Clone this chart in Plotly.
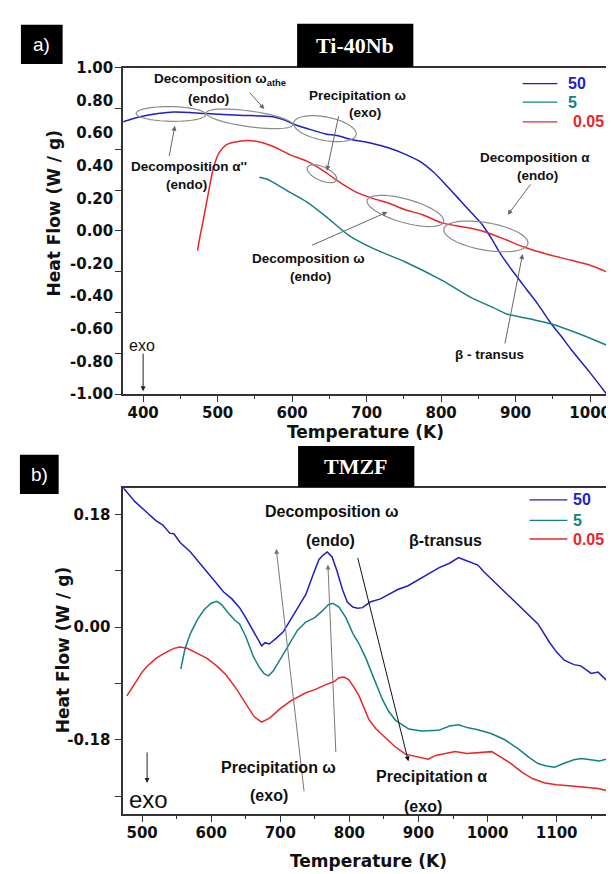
import numpy as np
import plotly.graph_objects as go

W, H = 614, 874

# ---------------- Panel a) Ti-40Nb ----------------
rate_labels = ["50", "5", "0.05"]
colors = ["#1f1fc4", "#138282", "#e8262a"]

temp_a_50 = [373, 396, 420, 441, 485, 529, 574, 590, 605, 619, 645, 660, 681, 705, 729, 752, 774, 790,
             809, 825, 841, 855, 868, 881, 900, 915, 930, 948, 962, 975, 1000, 1022]
hf_a_50 = [0.67, 0.70, 0.72, 0.73, 0.72, 0.71, 0.70, 0.68, 0.65, 0.63, 0.595, 0.585, 0.56, 0.54, 0.51, 0.47,
           0.42, 0.36, 0.27, 0.19, 0.11, 0.04, -0.05, -0.15, -0.27, -0.36, -0.45, -0.57, -0.65, -0.73, -0.87, -1.00]

temp_a_5 = [556, 565, 574, 596, 619, 645, 677, 710, 752, 800, 841, 870, 889, 920, 948, 985, 1022]
hf_a_5 = [0.33, 0.32, 0.30, 0.24, 0.18, 0.09, -0.03, -0.11, -0.19, -0.30, -0.41, -0.47, -0.51, -0.54,
          -0.57, -0.63, -0.70]

temp_a_005 = [473, 476, 480, 487, 494, 502, 512, 529, 540, 552, 574, 596, 619, 645, 660, 685, 708, 730,
              752, 775, 801, 830, 855, 885, 912, 940, 975, 1000, 1022]
hf_a_005 = [-0.12, -0.04, 0.05, 0.22, 0.38, 0.48, 0.53, 0.55, 0.555, 0.55, 0.52, 0.47, 0.43, 0.36, 0.31,
            0.24, 0.20, 0.17, 0.13, 0.10, 0.05, 0.025, 0.00, -0.05, -0.10, -0.14, -0.18, -0.21, -0.25]

xticks_a = [400, 500, 600, 700, 800, 900, 1000]
yticks_a_marks = [-1.0, -0.75, -0.5, -0.25, 0.0, 0.25, 0.5, 0.75, 1.0]
yticks_a_labels = [-1.0, -0.8, -0.6, -0.4, -0.2, 0.0, 0.2, 0.4, 0.6, 0.8, 1.0]

# ---------------- Panel b) TMZF ----------------
temp_b_50 = [473, 490, 505, 520, 530, 540, 546, 555, 570, 585, 600, 610, 618, 630, 641, 650, 660, 668,
             673, 678, 684, 694, 704, 715, 725, 737, 748, 756, 762, 768, 775, 782, 790, 797, 805, 812,
             819, 830, 845, 857, 870, 885, 900, 915, 930, 945, 958, 965, 975, 986, 995, 1010, 1025,
             1040, 1055, 1073, 1090, 1100, 1111, 1125, 1135, 1150, 1160, 1172]
hf_b_50 = [0.222, 0.200, 0.185, 0.170, 0.163, 0.150, 0.149, 0.135, 0.120, 0.100, 0.080, 0.066, 0.056,
           0.045, 0.031, 0.015, -0.005, -0.022, -0.030, -0.025, -0.027, -0.018, -0.008, 0.012, 0.030,
           0.052, 0.085, 0.108, 0.115, 0.120, 0.112, 0.090, 0.060, 0.040, 0.032, 0.030, 0.031, 0.040,
           0.045, 0.052, 0.060, 0.066, 0.076, 0.085, 0.095, 0.102, 0.111, 0.108, 0.104, 0.099, 0.088,
           0.072, 0.056, 0.040, 0.025, 0.005, -0.025, -0.040, -0.053, -0.060, -0.062, -0.074, -0.072,
           -0.085]

temp_b_5 = [556, 562, 570, 580, 590, 600, 608, 615, 625, 635, 641, 650, 661, 670, 677, 683, 690, 700,
            713, 725, 737, 750, 760, 770, 776, 785, 795, 805, 814, 824, 834, 848, 857, 867, 886, 905,
            929, 945, 958, 972, 986, 1005, 1025, 1045, 1060, 1073, 1085, 1097, 1110, 1125, 1136, 1150,
            1162, 1172]
hf_b_5 = [-0.067, -0.035, -0.010, 0.012, 0.028, 0.038, 0.041, 0.036, 0.022, 0.010, 0.005, -0.015, -0.047,
          -0.065, -0.075, -0.078, -0.070, -0.052, -0.027, -0.005, 0.008, 0.015, 0.025, 0.036, 0.038,
          0.032, 0.015, -0.010, -0.027, -0.050, -0.078, -0.116, -0.135, -0.149, -0.163, -0.166, -0.165,
          -0.158, -0.156, -0.161, -0.164, -0.170, -0.180, -0.195, -0.208, -0.218, -0.222, -0.224, -0.218,
          -0.212, -0.210, -0.212, -0.214, -0.211]

temp_b_005 = [478, 490, 500, 507, 520, 535, 546, 555, 565, 580, 594, 608, 622, 636, 651, 662, 673, 685,
              699, 715, 737, 750, 766, 778, 785, 792, 799, 806, 814, 821, 828, 838, 848, 865, 881, 895,
              905, 914, 925, 940, 953, 970, 990, 1006, 1020, 1035, 1050, 1065, 1083, 1100, 1122, 1145,
              1160, 1172]
hf_b_005 = [-0.110, -0.090, -0.072, -0.063, -0.050, -0.040, -0.034, -0.032, -0.034, -0.042, -0.050,
            -0.062, -0.077, -0.098, -0.125, -0.143, -0.152, -0.145, -0.131, -0.118, -0.105, -0.100,
            -0.092, -0.087, -0.081, -0.080, -0.084, -0.095, -0.110, -0.130, -0.147, -0.162, -0.172,
            -0.190, -0.203, -0.206, -0.208, -0.211, -0.205, -0.202, -0.199, -0.202, -0.200, -0.199,
            -0.208, -0.219, -0.232, -0.242, -0.249, -0.252, -0.254, -0.257, -0.258, -0.261]

xticks_b = [500, 600, 700, 800, 900, 1000, 1100]
yticks_b = [-0.27, -0.18, -0.09, 0.0, 0.09, 0.18]
yticks_b_text = ["", "-0.18", "", "0.00", "", "0.18"]


def P(px, py):
    return px / W, 1 - py / H


fig = go.Figure()

for t, v, c, name in [(temp_a_50, hf_a_50, colors[0], rate_labels[0]),
                      (temp_a_5, hf_a_5, colors[1], rate_labels[1]),
                      (temp_a_005, hf_a_005, colors[2], rate_labels[2])]:
    fig.add_trace(go.Scatter(x=t, y=v, mode="lines", name=name, xaxis="x", yaxis="y",
                             line=dict(color=c, width=1.5, shape="spline", smoothing=0.8),
                             showlegend=False))
for t, v, c, name in [(temp_b_50, hf_b_50, colors[0], rate_labels[0]),
                      (temp_b_5, hf_b_5, colors[1], rate_labels[1]),
                      (temp_b_005, hf_b_005, colors[2], rate_labels[2])]:
    fig.add_trace(go.Scatter(x=t, y=v, mode="lines", name=name, xaxis="x2", yaxis="y2",
                             line=dict(color=c, width=1.5), showlegend=False))

axcol = "#333333"
tickfont = dict(family="DejaVu Sans", size=15, color="#111111", weight="bold")
xdom = [116 / W, 603 / W]
ydom_a = [1 - 385 / H, 1 - 52 / H]
ydom_b = [1 - 814 / H, 1 - 481 / H]

common_x = dict(showline=True, linecolor=axcol, linewidth=1.6, mirror=True, ticks="outside",
                ticklen=6, tickwidth=1.4, tickcolor=axcol, showgrid=False, zeroline=False,
                tickfont=tickfont, ticklabelstandoff=-2)

fig.update_layout(
    width=W, height=H, margin=dict(l=0, r=0, t=0, b=0),
    paper_bgcolor="white", plot_bgcolor="white",
    xaxis=dict(domain=xdom, anchor="y", range=[373.3, 1022.7], tickvals=xticks_a,
               minor=dict(tickvals=[450, 550, 650, 750, 850, 950], ticks="outside", ticklen=3,
                          tickcolor=axcol, tickwidth=1.2),
               **common_x),
    yaxis=dict(domain=ydom_a, anchor="x", range=[-1, 1], tickvals=yticks_a_marks,
               showticklabels=False, showline=True, linecolor=axcol, linewidth=1.6, mirror=True,
               ticks="outside", ticklen=6, tickwidth=1.4, tickcolor=axcol, showgrid=False,
               zeroline=False),
    yaxis3=dict(overlaying="y", anchor="x", side="left", range=[-1, 1], tickvals=yticks_a_labels,
                ticktext=[f"{v:.2f}" for v in yticks_a_labels], ticks="outside", ticklen=6,
                tickcolor="rgba(0,0,0,0)", showline=False,
                showgrid=False, zeroline=False, tickfont=tickfont),
    xaxis2=dict(domain=xdom, anchor="y2", range=[472.7, 1173], tickvals=xticks_b,
                minor=dict(tickvals=[550, 650, 750, 850, 950, 1050, 1150], ticks="outside",
                           ticklen=3, tickcolor=axcol, tickwidth=1.2),
                **common_x),
    yaxis2=dict(domain=ydom_b, anchor="x2", range=[-0.299, 0.222], tickvals=yticks_b,
                ticktext=yticks_b_text, showline=True, linecolor=axcol, linewidth=1.6, mirror=True,
                ticks="outside", ticklen=6, tickwidth=1.4, tickcolor=axcol, showgrid=False,
                zeroline=False, tickfont=tickfont, ticklabelstandoff=2),
)
# dummy trace so yaxis3 is drawn
fig.add_trace(go.Scatter(x=[None], y=[None], xaxis="x", yaxis="y3", showlegend=False))

shapes = []
annos = []


def ellipse_path(cx, cy, a, b, ang):
    th = np.linspace(0, 2 * np.pi, 61)
    c, s = np.cos(np.radians(ang)), np.sin(np.radians(ang))
    xs = cx + a * np.cos(th) * c - b * np.sin(th) * s
    ys = cy + a * np.cos(th) * s + b * np.sin(th) * c
    pts = [P(x, y) for x, y in zip(xs, ys)]
    return "M " + " L ".join(f"{x:.5f},{y:.5f}" for x, y in pts) + " Z"


for cx, cy, a, b, ang in [(164, 99, 35, 7.5, 1), (243, 104, 44, 8, 8), (319, 114, 32, 12, 11),
                          (316, 160, 16, 7, 24), (400, 198, 40, 12, 16), (481, 224, 43, 14, 10)]:
    shapes.append(dict(type="path", xref="paper", yref="paper", path=ellipse_path(cx, cy, a, b, ang),
                       line=dict(color="#8c8c8c", width=1.2)))


def arrow(tail, head, color="#666666", width=1.0, size=1.0):
    hx, hy = P(*head)
    annos.append(dict(x=hx, y=hy, xref="paper", yref="paper", ax=tail[0] - head[0],
                      ay=tail[1] - head[1], axref="pixel", ayref="pixel", text="", showarrow=True,
                      arrowhead=2, arrowsize=size, arrowwidth=width, arrowcolor=color, standoff=0))


def label(px, py, text, size=13.5, color="#111111", family="Liberation Sans, Arial", bold=True,
          angle=0):
    x, y = P(px, py)
    annos.append(dict(x=x, y=y, xref="paper", yref="paper", text=(f"<b>{text}</b>" if bold else text),
                      showarrow=False, xanchor="center", yanchor="middle", textangle=angle,
                      font=dict(family=family, size=size, color=color)))


# panel a arrows
arrow((242, 76), (258, 94))
arrow((162, 143), (168, 111))
arrow((333, 101), (321, 157))
arrow((305, 233), (382, 199))
arrow((527, 170), (503, 202))
arrow((500, 333), (518, 242))
arrow((136, 343), (136, 382), color="#222222")
# panel b arrows
arrow((298, 787), (270, 543), color="#777777")
arrow((330, 748), (322, 559), color="#777777")
arrow((352, 555), (403, 760), color="#111111")
arrow((140, 750), (140, 782), color="#222222")

# panel a labels
label(213, 64, "Decomposition ω<sub>athe</sub>")
label(202, 83, "(endo)")
label(182, 153, "Decomposition α''")
label(180, 171, "(endo)")
label(352, 80, "Precipitation ω")
label(359, 98, "(exo)")
label(530, 143, "Decomposition α")
label(533, 162, "(endo)")
label(302, 247, "Decomposition ω")
label(304, 265, "(endo)")
label(485, 345, "β - transus")
label(135, 335, "exo", size=16, bold=False)
# panel b labels
label(326, 505, "Decomposition ω", size=16)
label(325, 535, "(endo)", size=16)
label(440, 535, "β-transus", size=16)
label(272, 766, "Precipitation ω", size=16)
label(263, 795, "(exo)", size=16)
label(426, 775, "Precipitation α", size=16)
label(418, 806, "(exo)", size=16)
label(141, 799, "exo", size=24, bold=False)

# axis titles
for (px, py), txt, ang in [((46, 200), "Heat Flow (W / g)", -90), ((55, 646), "Heat Flow (W / g)", -90),
                           ((360, 424), "Temperature (K)", 0), ((363, 862), "Temperature (K)", 0)]:
    label(px, py, txt, size=17, family="DejaVu Sans", angle=ang)

# legends (drawn)
for (x0, x1, ys, tx) in [(518, 553, [68, 87, 107], [562, 562, 567]),
                         (525, 563, [493, 514, 533], [567, 567, 567])]:
    for i in range(3):
        a0 = P(x0, ys[i]); a1 = P(x1, ys[i])
        shapes.append(dict(type="line", xref="paper", yref="paper", x0=a0[0], y0=a0[1], x1=a1[0],
                           y1=a1[1], line=dict(color=colors[i], width=1.3)))
        lx, ly = P(tx[i], ys[i])
        annos.append(dict(x=lx, y=ly, xref="paper", yref="paper", text=f"<b>{rate_labels[i]}</b>",
                          showarrow=False, xanchor="left", yanchor="middle",
                          font=dict(family="Liberation Sans, Arial", size=16, color=colors[i])))

# title boxes
for (x0, y0, x1, y1), txt, fam, size in [((13, 8, 55, 48), "a)", "Liberation Sans, Arial", 19),
                                         ((291, 7, 408, 51), "<b>Ti-40Nb</b>", "Liberation Serif, Times New Roman", 22),
                                         ((12, 447, 51, 487), "b)", "Liberation Sans, Arial", 19),
                                         ((292, 438, 409, 480), "<b>TMZF</b>", "Liberation Serif, Times New Roman", 22)]:
    p0 = P(x0, y0); p1 = P(x1, y1)
    shapes.append(dict(type="rect", xref="paper", yref="paper", x0=p0[0], y0=p1[1], x1=p1[0], y1=p0[1],
                       fillcolor="black", line=dict(width=0), layer="above"))
    cx, cy = P((x0 + x1) / 2, (y0 + y1) / 2)
    annos.append(dict(x=cx, y=cy, xref="paper", yref="paper", text=txt, showarrow=False,
                      xanchor="center", yanchor="middle", font=dict(family=fam, size=size, color="white")))

fig.update_layout(shapes=shapes, annotations=annos)
fig.write_html("out.html")
